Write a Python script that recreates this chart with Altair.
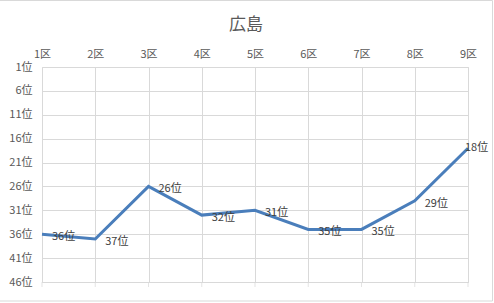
import altair as alt
import pandas as pd

districts = ["1区", "2区", "3区", "4区", "5区", "6区", "7区", "8区", "9区"]
ranks = [36, 37, 26, 32, 31, 35, 35, 29, 18]
rank_ticks = [1, 6, 11, 16, 21, 26, 31, 36, 41, 46]
title_text = "広島"

df = pd.DataFrame({"district": districts, "rank": ranks})
df["label"] = df["rank"].astype(str) + "位"
df["idx"] = range(len(df))

FONT = "Noto Sans CJK JP"
GRAY = "#595959"

x_enc = alt.X("district:O", sort=districts,
              scale=alt.Scale(type="point", padding=0),
              axis=alt.Axis(orient="top", title=None, domain=False, ticks=False,
                            grid=True, gridColor="#d9d9d9", labelPadding=8,
                            labelAngle=0, labelFont=FONT, labelFontSize=11,
                            labelColor=GRAY))
y_enc = alt.Y("rank:Q", scale=alt.Scale(domain=[1, 46], reverse=True, nice=False, zero=False),
              axis=alt.Axis(values=rank_ticks, title=None, domain=False, ticks=False,
                            grid=True, gridColor="#d9d9d9", labelPadding=10,
                            labelOverlap=False,
                            labelExpr="datum.value + '位'", labelFont=FONT,
                            labelFontSize=11, labelColor=GRAY))

base = alt.Chart(df)

line = base.mark_line(color="#4a7ebb", strokeWidth=3).encode(x=x_enc, y=y_enc)

labels = base.transform_filter(alt.datum.idx < 8).mark_text(
    align="left", baseline="middle", dx=10, dy=3,
    font=FONT, fontSize=11, color="#404040").encode(
    x=x_enc, y=y_enc, text="label:N")

last_label = base.transform_filter(alt.datum.idx == 8).mark_text(
    align="left", baseline="middle", dx=-3, dy=0,
    font=FONT, fontSize=11, color="#404040").encode(
    x=x_enc, y=y_enc, text="label:N")

bottom_ticks = base.mark_tick(orient="vertical", color="#d9d9d9", size=5, thickness=1).encode(
    x=x_enc,
    y=alt.value(217.5))

frame = alt.Chart(pd.DataFrame({"a": [0]})).mark_rect(
    fill=None, stroke="#d9d9d9", strokeWidth=1, clip=False).encode(
    x=alt.value(-43), x2=alt.value(450.5), y=alt.value(-66.5), y2=alt.value(234))

title = alt.Chart(pd.DataFrame({"t": [title_text]})).mark_text(
    font=FONT, fontSize=17, color=GRAY, align="center", baseline="middle").encode(
    x=alt.value(204), y=alt.value(-42), text="t:N")

chart = alt.layer(line, labels, last_label, bottom_ticks, frame, title).properties(
    width=426, height=215,
    autosize=alt.AutoSizeParams(type="none"),
    padding={"left": 42, "top": 67, "right": 26, "bottom": 21},
).configure_view(stroke=None).configure(background="white")

chart.save("out.html", embed_options={"renderer": "svg", "actions": False})
